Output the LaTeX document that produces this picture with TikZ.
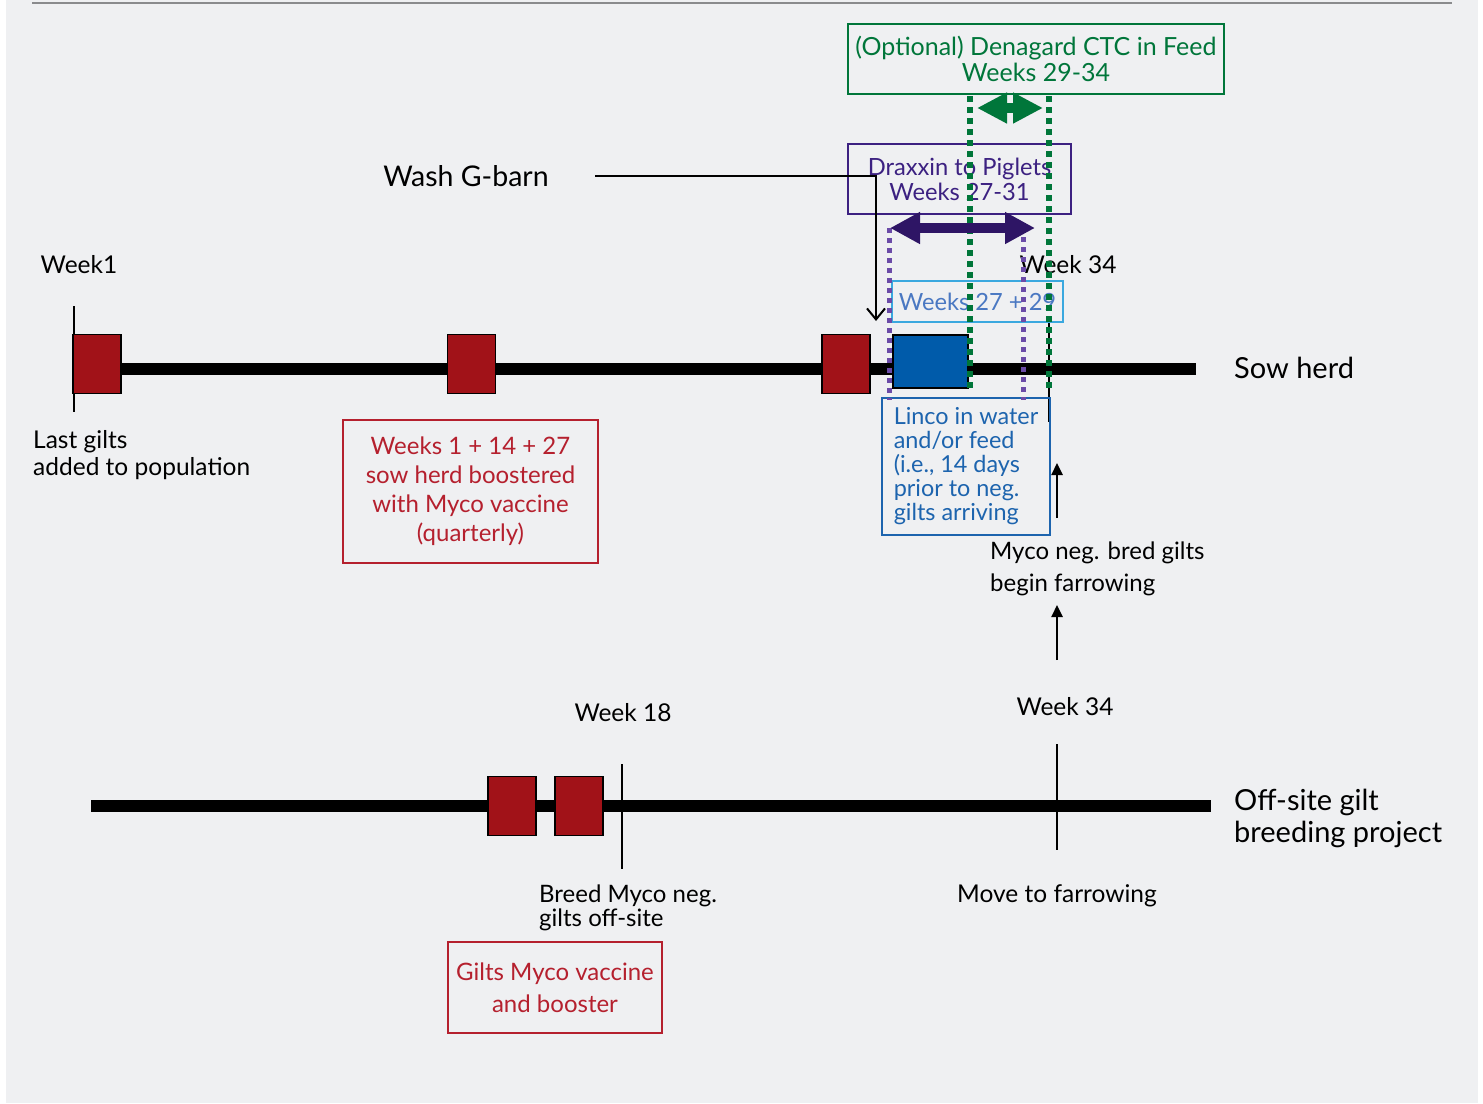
\documentclass[tikz,border=0pt]{standalone}
\usepackage{fontspec}
\setmainfont{Lato}
\usetikzlibrary{arrows.meta,positioning}
\definecolor{panel}{HTML}{EFF0F2}
\definecolor{rulegray}{HTML}{8A8B8D}
\definecolor{giltred}{HTML}{A11218}
\definecolor{notered}{HTML}{B5202E}
\definecolor{ctcgreen}{HTML}{00763A}
\definecolor{draxpurple}{HTML}{3C2181}
\definecolor{draxarrow}{HTML}{2E1565}
\definecolor{draxdot}{HTML}{6B4BA8}
\definecolor{skyblue}{HTML}{3AA8DF}
\definecolor{skytext}{HTML}{4A78C2}
\definecolor{lincoblue}{HTML}{1D64AE}
\definecolor{lincofill}{HTML}{005BAA}

\begin{document}
\begin{tikzpicture}[
  x=1pt, y=-1pt,
  label/.style={inner sep=0pt, text=black, font=\fontsize{24.5}{27}\selectfont},
  biglabel/.style={inner sep=0pt, text=black, font=\fontsize{29}{32}\selectfont, align=left},
  note/.style={rectangle, draw, line width=1.5pt, inner sep=0pt, align=center},
  gilt/.style={rectangle, draw=black, line width=1.3pt, fill=giltred, minimum width=48pt, minimum height=59pt, inner sep=0pt},
  timeline/.style={line width=12pt},
  tick/.style={line width=1.6pt},
  dotline/.style={line width=5pt, dash pattern=on 5pt off 5pt},
  thinarrow/.style={line width=2pt, -{Straight Barb[length=11pt,width=18pt,line width=2pt]}},
  uparrow/.style={line width=2.5pt, -{Triangle[length=12pt,width=11pt]}},
  span/.style={line width=10pt, {Triangle[length=30pt,width=30pt]}-{Triangle[length=30pt,width=30pt]}}
]
\useasboundingbox (0,0) rectangle (1483,1103);
\fill[white] (0,0) rectangle (1483,1103);
\fill[panel] (6,0) rectangle (1478,1103);
\draw[rulegray, line width=2.5pt] (32,3) -- (1452,3);

% time lines
\coordinate (sowL) at (120,369);
\coordinate (sowR) at (1196,369);
\coordinate (offL) at (91,806);
\coordinate (offR) at (1211,806);
\draw[timeline] (sowL) -- (sowR);
\draw[timeline] (offL) -- (offR);
\node[biglabel, anchor=west] (sowlbl) at (1234,368) {Sow herd};
\node[biglabel, anchor=west] (offlbl) at (1234,818) {Off-site gilt\\breeding project};

% ticks
\draw[tick] (74,306) coordinate (wk1T) -- (74,412) coordinate (wk1B);
\draw[tick] (1049,317) coordinate (wk34T) -- (1049,422) coordinate (wk34B);
\draw[tick] (622,764) coordinate (wk18T) -- (622,869) coordinate (wk18B);
\draw[tick] (1057,744) coordinate (mvT) -- (1057,850) coordinate (mvB);

% sow herd events
\node[gilt] (g1) at (97,364) {};
\node[gilt] (g2) at (471.5,364) {};
\node[gilt] (g3) at (846,364) {};
\node[rectangle, draw=black, line width=1.3pt, fill=lincofill, minimum width=75pt, minimum height=53pt, inner sep=0pt] (linco) at (930.5,361.5) {};

\node[label] (wk1) at (79,265) {Week1};
\node[label, anchor=west, align=left] (lastg) at (33,455) {Last gilts\\added to population};
\node[note, draw=notered, text=notered, minimum width=255pt, minimum height=143pt,
  font=\fontsize{24}{29}\selectfont] (boost) at (470.5,491.5) {Weeks 1 + 14 + 27\\sow herd boostered\\with Myco vaccine\\(quarterly)};

% treatment boxes
\node[note, draw=ctcgreen, text=ctcgreen, minimum width=376pt, minimum height=70pt,
  font=\fontsize{25}{26}\selectfont] (ctc) at (1036,59) {(Optional) Denagard CTC in Feed\\Weeks 29-34};
\node[note, draw=draxpurple, text=draxpurple, minimum width=223pt, minimum height=70pt,
  font=\fontsize{23.7}{25}\selectfont] (drax) at (959.5,179) {Draxxin to Piglets\\Weeks 27-31};
\node[note, draw=skyblue, text=skytext, minimum width=171pt, minimum height=41pt,
  font=\fontsize{23.7}{25}\selectfont] (wk2729) at (977.5,301.5) {Weeks 27 + 29};
\node[note, draw=lincoblue, text=lincoblue, minimum width=168pt, minimum height=137pt,
  align=left, font=\fontsize{23.4}{24}\selectfont] (lincotxt) at (966,466.5)
  {Linco in water\\and/or feed\\(i.e., 14 days\\prior to neg.\\gilts arriving};
\node[label] (wk34a) at (1068,265) {Week 34};

% wash arrow
\node[label, font=\fontsize{28.5}{30}\selectfont] (wash) at (466,176) {Wash G-barn};
\coordinate (washS) at (595,176);
\coordinate (washE) at (876,321);
\draw[thinarrow] (washS) -| (washE);

% dotted week spans
\draw[dotline, draxdot] (889,228) coordinate (dpL) -- (889,400);
\draw[dotline, draxdot] (1023,237) coordinate (dpR) -- (1023,400);
\draw[dotline, ctcgreen, line width=6pt, dash pattern=on 6pt off 5pt] (970,96) -- (970,388);
\draw[dotline, ctcgreen, line width=6pt, dash pattern=on 6pt off 5pt] (1049,96) -- (1049,388);
\coordinate (dxL) at (890,228);
\coordinate (dxR) at (1035,228);
\draw[span, draxarrow] (dxL) -- (dxR);
\coordinate (ctL) at (977,108);
\coordinate (ctR) at (1043,108);
\draw[span, ctcgreen, {Triangle[length=30pt,width=29pt]}-{Triangle[length=30pt,width=29pt]}] (ctL) -- (ctR);

% farrowing
\node[label, anchor=west, align=left, font=\fontsize{24}{32}\selectfont] (farrow) at (990,569) {Myco neg. bred gilts\\begin farrowing};
\draw[uparrow] (1057,518) coordinate (fa1) -- (1057,463);
\draw[uparrow] (1057,660) coordinate (fa2) -- (1057,605);
\node[label] (wk34b) at (1065,707) {Week 34};
\node[label] (move) at (1057,896) {Move to farrowing};

% off-site events
\node[gilt] (g4) at (512,806) {};
\node[gilt] (g5) at (579,806) {};
\node[label] (wk18) at (623,713) {Week 18};
\node[label, anchor=west, align=left, font=\fontsize{24}{24}\selectfont] (breed) at (539,908) {Breed Myco neg.\\gilts off-site};
\node[note, draw=notered, text=notered, minimum width=214pt, minimum height=91pt,
  font=\fontsize{24}{32}\selectfont] (giltvac) at (555,987.5) {Gilts Myco vaccine\\and booster};
\end{tikzpicture}
\end{document}
